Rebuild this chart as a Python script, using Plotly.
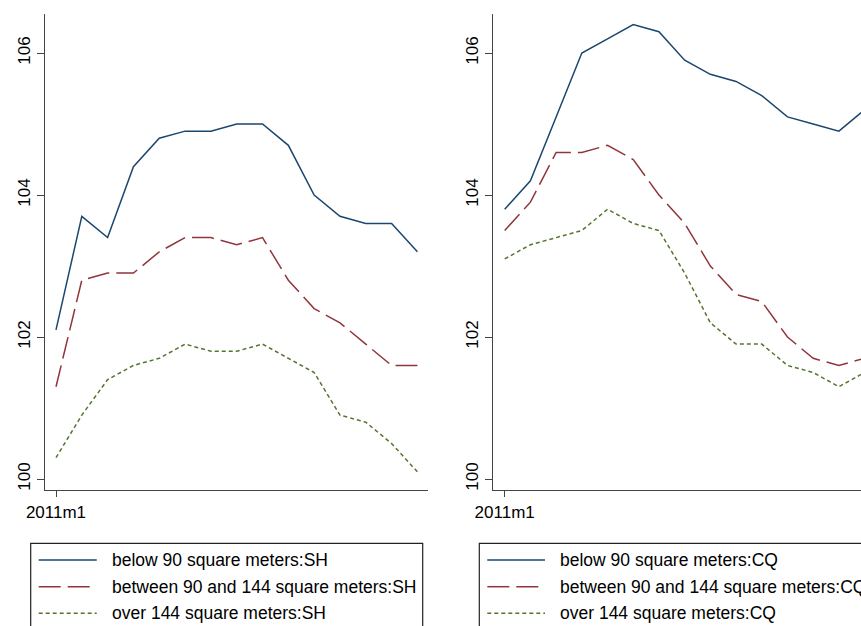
import plotly.graph_objects as go

# ---------------- data ----------------
months = ["2011m1", "2011m2", "2011m3", "2011m4", "2011m5", "2011m6", "2011m7",
          "2011m8", "2011m9", "2011m10", "2011m11", "2011m12", "2012m1", "2012m2", "2012m3"]
tick_labels = ["2011m1"]
y_ticks = [100, 102, 104, 106]

sh_below90 = [102.1, 103.7, 103.4, 104.4, 104.8, 104.9, 104.9, 105.0, 105.0, 104.7, 104.0, 103.7, 103.6, 103.6, 103.2]
sh_90_144 = [101.3, 102.8, 102.9, 102.9, 103.2, 103.4, 103.4, 103.3, 103.4, 102.8, 102.4, 102.2, 101.9, 101.6, 101.6]
sh_over144 = [100.3, 100.9, 101.4, 101.6, 101.7, 101.9, 101.8, 101.8, 101.9, 101.7, 101.5, 100.9, 100.8, 100.5, 100.1]

cq_below90 = [103.8, 104.2, 105.1, 106.0, 106.2, 106.4, 106.3, 105.9, 105.7, 105.6, 105.4, 105.1, 105.0, 104.9, 105.2]
cq_90_144 = [103.5, 103.9, 104.6, 104.6, 104.7, 104.5, 104.0, 103.6, 103.0, 102.6, 102.5, 102.0, 101.7, 101.6, 101.7]
cq_over144 = [103.1, 103.3, 103.4, 103.5, 103.8, 103.6, 103.5, 102.9, 102.2, 101.9, 101.9, 101.6, 101.5, 101.3, 101.5]

names_sh = ["below 90 square meters:SH", "between 90 and 144 square meters:SH", "over 144 square meters:SH"]
names_cq = ["below 90 square meters:CQ", "between 90 and 144 square meters:CQ", "over 144 square meters:CQ"]

# ---------------- style ----------------
W, H = 861, 626
colors = ["#1a476f", "#90353b", "#55752f"]
dashes = ["solid", "22px,7px", "4px,3px"]
FONT = "Liberation Sans, Arial, sans-serif"
AXC = "#444444"

def px_x(p):
    return p / W

def px_y(p):
    return 1 - p / H

fig = go.Figure()

panels = [
    ("x", "y", [sh_below90, sh_90_144, sh_over144], names_sh),
    ("x2", "y2", [cq_below90, cq_90_144, cq_over144], names_cq),
]
for xa, ya, series, names in panels:
    for vals, name, c, d in zip(series, names, colors, dashes):
        fig.add_trace(go.Scatter(
            x=months, y=vals, mode="lines", name=name, xaxis=xa, yaxis=ya,
            line=dict(color=c, width=1.5, dash=d), showlegend=False,
        ))

xcommon = dict(type="category", showgrid=False, zeroline=False, showline=True,
               linecolor=AXC, linewidth=1.3, ticks="outside", ticklen=6, tickwidth=1.3,
               tickcolor=AXC, tickmode="array", tickvals=tick_labels, ticktext=tick_labels,
               tickfont=dict(family=FONT, size=17, color="black"), automargin=False)
ycommon = dict(showgrid=False, zeroline=False, showline=True, linecolor=AXC, linewidth=1.3,
               ticks="outside", ticklen=7, tickwidth=1.3, tickcolor=AXC,
               tickmode="array", tickvals=y_ticks, ticktext=[str(v) for v in y_ticks],
               tickangle=-90, tickfont=dict(family=FONT, size=17, color="black"),
               range=[99.845, 106.55], automargin=False)

ydom = [px_y(490), px_y(14)]
x1 = dict(xcommon); x1.update(domain=[px_x(45), px_x(428)], range=[-0.426, 14.41], anchor="y")
x2 = dict(xcommon); x2.update(domain=[px_x(493.3), 1.0], range=[-0.444, 13.86], anchor="y2")
y1 = dict(ycommon); y1.update(domain=ydom, anchor="x")
y2 = dict(ycommon); y2.update(domain=ydom, anchor="x2")

fig.update_layout(
    width=W, height=H,
    margin=dict(l=0, r=0, t=0, b=0),
    paper_bgcolor="white", plot_bgcolor="white",
    xaxis=x1, xaxis2=x2, yaxis=y1, yaxis2=y2,
    showlegend=False,
    font=dict(family=FONT, color="black"),
)

# ---------------- legends (drawn boxes) ----------------
legend_specs = [
    (30.7, 422.7, 38.7, 96.7, 110, names_sh),
    (479.3, 900, 487.3, 545, 558.3, names_cq),
]
row_y = [560, 586.7, 613.3]
for bx0, bx1, lx0, lx1, tx, names in legend_specs:
    fig.add_shape(type="rect", xref="paper", yref="paper",
                  x0=px_x(bx0), x1=px_x(bx1), y0=px_y(543.3), y1=px_y(660),
                  line=dict(color="#222222", width=1.2), fillcolor="rgba(0,0,0,0)")
    for ry, name, c, d in zip(row_y, names, colors, dashes):
        fig.add_shape(type="line", xref="paper", yref="paper",
                      x0=px_x(lx0), x1=px_x(lx1), y0=px_y(ry), y1=px_y(ry),
                      line=dict(color=c, width=1.5, dash=d))
        fig.add_annotation(xref="paper", yref="paper", x=px_x(tx), y=px_y(ry),
                           text=name, showarrow=False, xanchor="left", yanchor="middle",
                           font=dict(family=FONT, size=17.5, color="black"))

fig.write_html(
    "out.html",
    config={"displayModeBar": False},
    post_script="document.body.style.margin='0';document.body.style.padding='0';"
                "document.documentElement.style.overflow='hidden';",
)
